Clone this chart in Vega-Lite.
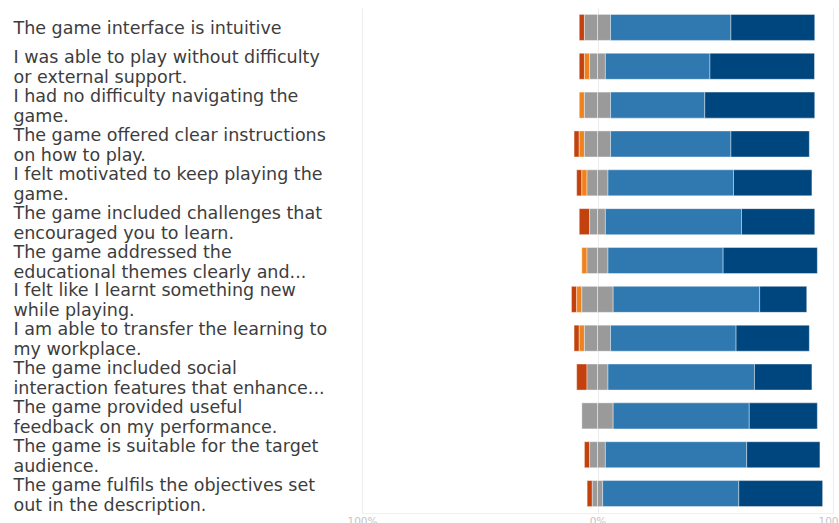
{
  "$schema": "https://vega.github.io/schema/vega-lite/v6.json",
  "width": 471,
  "height": 505,
  "autosize": {"type": "none"},
  "padding": {"left": 362, "top": 8, "right": 6, "bottom": 10},
  "background": "white",
  "config": {"view": {"stroke": null}, "font": "DejaVu Sans"},
  "data": {"values": [
    {"q": "The game interface is intuitive", "r": "Strongly disagree", "v": -2.2},
    {"q": "The game interface is intuitive", "r": "Neutral", "v": -5.55},
    {"q": "The game interface is intuitive", "r": "Neutral", "v": 5.55},
    {"q": "The game interface is intuitive", "r": "Agree", "v": 51.1},
    {"q": "The game interface is intuitive", "r": "Strongly agree", "v": 35.6},

    {"q": "I was able to play without difficulty\nor external support.", "r": "Strongly disagree", "v": -2.2},
    {"q": "I was able to play without difficulty\nor external support.", "r": "Disagree", "v": -2.2},
    {"q": "I was able to play without difficulty\nor external support.", "r": "Neutral", "v": -3.35},
    {"q": "I was able to play without difficulty\nor external support.", "r": "Neutral", "v": 3.35},
    {"q": "I was able to play without difficulty\nor external support.", "r": "Agree", "v": 44.4},
    {"q": "I was able to play without difficulty\nor external support.", "r": "Strongly agree", "v": 44.4},

    {"q": "I had no difficulty navigating the\ngame.", "r": "Disagree", "v": -2.2},
    {"q": "I had no difficulty navigating the\ngame.", "r": "Neutral", "v": -5.55},
    {"q": "I had no difficulty navigating the\ngame.", "r": "Neutral", "v": 5.55},
    {"q": "I had no difficulty navigating the\ngame.", "r": "Agree", "v": 40.0},
    {"q": "I had no difficulty navigating the\ngame.", "r": "Strongly agree", "v": 46.7},

    {"q": "The game offered clear instructions\non how to play.", "r": "Strongly disagree", "v": -2.2},
    {"q": "The game offered clear instructions\non how to play.", "r": "Disagree", "v": -2.2},
    {"q": "The game offered clear instructions\non how to play.", "r": "Neutral", "v": -5.55},
    {"q": "The game offered clear instructions\non how to play.", "r": "Neutral", "v": 5.55},
    {"q": "The game offered clear instructions\non how to play.", "r": "Agree", "v": 51.1},
    {"q": "The game offered clear instructions\non how to play.", "r": "Strongly agree", "v": 33.3},

    {"q": "I felt motivated to keep playing the\ngame.", "r": "Strongly disagree", "v": -2.2},
    {"q": "I felt motivated to keep playing the\ngame.", "r": "Disagree", "v": -2.2},
    {"q": "I felt motivated to keep playing the\ngame.", "r": "Neutral", "v": -4.45},
    {"q": "I felt motivated to keep playing the\ngame.", "r": "Neutral", "v": 4.45},
    {"q": "I felt motivated to keep playing the\ngame.", "r": "Agree", "v": 53.3},
    {"q": "I felt motivated to keep playing the\ngame.", "r": "Strongly agree", "v": 33.3},

    {"q": "The game included challenges that\nencouraged you to learn.", "r": "Strongly disagree", "v": -4.4},
    {"q": "The game included challenges that\nencouraged you to learn.", "r": "Neutral", "v": -3.35},
    {"q": "The game included challenges that\nencouraged you to learn.", "r": "Neutral", "v": 3.35},
    {"q": "The game included challenges that\nencouraged you to learn.", "r": "Agree", "v": 57.8},
    {"q": "The game included challenges that\nencouraged you to learn.", "r": "Strongly agree", "v": 31.1},

    {"q": "The game addressed the\neducational themes clearly and...", "r": "Disagree", "v": -2.2},
    {"q": "The game addressed the\neducational themes clearly and...", "r": "Neutral", "v": -4.45},
    {"q": "The game addressed the\neducational themes clearly and...", "r": "Neutral", "v": 4.45},
    {"q": "The game addressed the\neducational themes clearly and...", "r": "Agree", "v": 48.9},
    {"q": "The game addressed the\neducational themes clearly and...", "r": "Strongly agree", "v": 40.0},

    {"q": "I felt like I learnt something new\nwhile playing.", "r": "Strongly disagree", "v": -2.2},
    {"q": "I felt like I learnt something new\nwhile playing.", "r": "Disagree", "v": -2.2},
    {"q": "I felt like I learnt something new\nwhile playing.", "r": "Neutral", "v": -6.65},
    {"q": "I felt like I learnt something new\nwhile playing.", "r": "Neutral", "v": 6.65},
    {"q": "I felt like I learnt something new\nwhile playing.", "r": "Agree", "v": 62.2},
    {"q": "I felt like I learnt something new\nwhile playing.", "r": "Strongly agree", "v": 20.0},

    {"q": "I am able to transfer the learning to\nmy workplace.", "r": "Strongly disagree", "v": -2.2},
    {"q": "I am able to transfer the learning to\nmy workplace.", "r": "Disagree", "v": -2.2},
    {"q": "I am able to transfer the learning to\nmy workplace.", "r": "Neutral", "v": -5.55},
    {"q": "I am able to transfer the learning to\nmy workplace.", "r": "Neutral", "v": 5.55},
    {"q": "I am able to transfer the learning to\nmy workplace.", "r": "Agree", "v": 53.3},
    {"q": "I am able to transfer the learning to\nmy workplace.", "r": "Strongly agree", "v": 31.1},

    {"q": "The game included social\ninteraction features that enhance...", "r": "Strongly disagree", "v": -4.4},
    {"q": "The game included social\ninteraction features that enhance...", "r": "Neutral", "v": -4.45},
    {"q": "The game included social\ninteraction features that enhance...", "r": "Neutral", "v": 4.45},
    {"q": "The game included social\ninteraction features that enhance...", "r": "Agree", "v": 62.2},
    {"q": "The game included social\ninteraction features that enhance...", "r": "Strongly agree", "v": 24.4},

    {"q": "The game provided useful\nfeedback on my performance.", "r": "Neutral", "v": -6.65},
    {"q": "The game provided useful\nfeedback on my performance.", "r": "Neutral", "v": 6.65},
    {"q": "The game provided useful\nfeedback on my performance.", "r": "Agree", "v": 57.8},
    {"q": "The game provided useful\nfeedback on my performance.", "r": "Strongly agree", "v": 28.9},

    {"q": "The game is suitable for the target\naudience.", "r": "Strongly disagree", "v": -2.2},
    {"q": "The game is suitable for the target\naudience.", "r": "Neutral", "v": -3.35},
    {"q": "The game is suitable for the target\naudience.", "r": "Neutral", "v": 3.35},
    {"q": "The game is suitable for the target\naudience.", "r": "Agree", "v": 60.0},
    {"q": "The game is suitable for the target\naudience.", "r": "Strongly agree", "v": 31.1},

    {"q": "The game fulfils the objectives set\nout in the description.", "r": "Strongly disagree", "v": -2.2},
    {"q": "The game fulfils the objectives set\nout in the description.", "r": "Neutral", "v": -2.2},
    {"q": "The game fulfils the objectives set\nout in the description.", "r": "Neutral", "v": 2.2},
    {"q": "The game fulfils the objectives set\nout in the description.", "r": "Agree", "v": 57.8},
    {"q": "The game fulfils the objectives set\nout in the description.", "r": "Strongly agree", "v": 35.6}
  ]},
  "transform": [
    {"calculate": "datum.r == 'Neutral' ? 0 : ((datum.r == 'Disagree' || datum.r == 'Agree') ? 1 : 2)", "as": "ord"}
  ],
  "mark": {"type": "bar", "stroke": "white", "strokeWidth": 0.8, "strokeOpacity": 0.5},
  "encoding": {
    "y": {
      "field": "q", "type": "nominal", "sort": null,
      "scale": {"paddingInner": 0.33, "paddingOuter": 0.165},
      "axis": {
        "title": null, "domain": false, "ticks": false,
        "labelAlign": "left", "labelPadding": 349, "labelLimit": 400,
        "labelFontSize": 17.5, "labelColor": "#3d3d3d", "labelLineHeight": 20,
        "labelOffset": {"condition": {"test": "indexof(datum.label, '\\n') >= 0", "value": -8}, "value": 1.5},
        "labelExpr": "split(datum.label, '\\n')"
      }
    },
    "x": {
      "field": "v", "type": "quantitative", "stack": "zero",
      "scale": {"domain": [-100, 100]},
      "axis": {
        "title": null, "values": [-100, 0, 100], "ticks": false, "labelFlush": false,
        "labelExpr": "abs(datum.value) + '%'",
        "labelFontSize": 10.5, "labelColor": "#c4c4c4", "labelPadding": 3,
        "gridColor": "#ececec", "domainColor": "#f0f0f0"
      }
    },
    "color": {
      "field": "r", "type": "nominal", "legend": null,
      "scale": {
        "domain": ["Strongly disagree", "Disagree", "Neutral", "Agree", "Strongly agree"],
        "range": ["#c2410c", "#f0821e", "#9a9a9a", "#2f79b0", "#00467e"]
      }
    },
    "order": {"field": "ord", "type": "quantitative"}
  }
}
